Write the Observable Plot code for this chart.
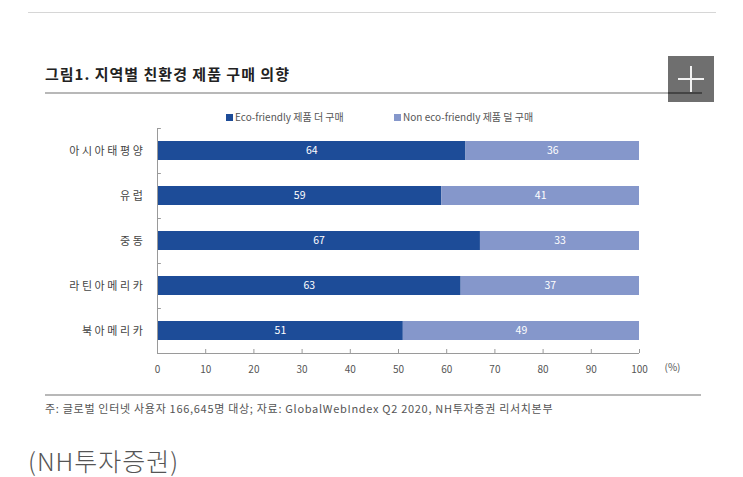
<!DOCTYPE html>
<html>
<head>
<meta charset="utf-8">
<script src="https://cdn.jsdelivr.net/npm/d3@7"></script>
<script src="https://cdn.jsdelivr.net/npm/@observablehq/plot@0.6"></script>
<style>
  html, body { margin: 0; padding: 0; background: #fff; }
  #page { position: relative; width: 743px; height: 477px; overflow: hidden; font-family: "Noto Sans CJK KR", "Noto Sans", sans-serif; background: #fff; }
  .abs { position: absolute; }
  #topline { left: 28px; top: 12px; width: 688px; height: 1px; background: #d6d6d6; }
  #title { left: 45px; top: 63px; font-size: 15px; font-weight: 700; color: #222; letter-spacing: 1px; white-space: nowrap; }
  #titleline { left: 45px; top: 92px; width: 623px; height: 2px; background: #b8b8b8; }
  #plusbox { left: 668px; top: 56px; width: 46px; height: 46px; background: #6f6f6f; }
  #plusbox .h { position: absolute; left: 10px; top: 22px; width: 26px; height: 1.5px; background: #f2f2f2; }
  #plusbox .v { position: absolute; left: 22px; top: 10px; width: 1.5px; height: 26px; background: #f2f2f2; }
  #plusbox .u { position: absolute; left: 0px; top: 36px; width: 34px; height: 2px; background: #444; }
  #legend { left: 0; top: 109px; width: 743px; font-size: 10px; color: #555; white-space: nowrap; }
  .lg { position: absolute; top: 0; }
  .sw { display: inline-block; width: 7px; height: 7px; margin-right: 2px; vertical-align: 0px; }
  #chart { left: 0; top: 125px; }
  #bottomline { left: 45px; top: 394px; width: 656px; height: 2px; background: #b8b8b8; }
  #note { left: 45px; top: 400px; font-size: 11px; color: #555; white-space: nowrap; letter-spacing: 0.7px; }
  #source { left: 28px; top: 442px; font-size: 25px; color: #555; font-weight: 300; white-space: nowrap; letter-spacing: 1px; font-family: "Noto Sans CJK KR", sans-serif; }
</style>
</head>
<body>
<div id="page">
  <div id="topline" class="abs"></div>
  <div id="title" class="abs">그림1. 지역별 친환경 제품 구매 의향</div>
  <div id="titleline" class="abs"></div>
  <div id="plusbox" class="abs"><div class="u"></div><div class="h"></div><div class="v"></div></div>
  <div id="legend" class="abs"></div>
  <div id="chart" class="abs"></div>
  <div id="bottomline" class="abs"></div>
  <div id="note" class="abs">주: 글로벌 인터넷 사용자 166,645명 대상; 자료: GlobalWebIndex Q2 2020, NH투자증권 리서치본부</div>
  <div id="source" class="abs">(NH투자증권)</div>
</div>
<script>
const regions = ["아시아태평양", "유럽", "중동", "라틴아메리카", "북아메리카"];
const seriesNames = ["Eco-friendly 제품 더 구매", "Non eco-friendly 제품 덜 구매"];
const ecoValues = [64, 59, 67, 63, 51];
const nonEcoValues = [36, 41, 33, 37, 49];
const xTicks = [0, 10, 20, 30, 40, 50, 60, 70, 80, 90, 100];
const seriesColors = ["#1d4c98", "#8597cb"];

const data = [];
regions.forEach((r, i) => {
  data.push({region: r, series: seriesNames[0], value: ecoValues[i]});
  data.push({region: r, series: seriesNames[1], value: nonEcoValues[i]});
});

const width = 743, height = 265;
const marginTop = 3, marginBottom = 37, marginLeft = 157, marginRight = 104;
const step = (height - marginTop - marginBottom) / regions.length;

const chart = Plot.plot({
  width, height, marginTop, marginBottom, marginLeft, marginRight,
  style: {fontFamily: "'Noto Sans CJK KR', 'Noto Sans', sans-serif", background: "transparent"},
  x: {domain: [0, 100]},
  y: {domain: regions, paddingInner: 0.58, paddingOuter: 0.29},
  color: {domain: seriesNames, range: seriesColors},
  marks: [
    Plot.barX(data, Plot.stackX({x: "value", y: "region", fill: "series", order: null})),
    Plot.text(data, Plot.stackX({x: "value", y: "region", z: "series", text: "value", fill: "white", fontSize: 10.5, order: null})),
    Plot.ruleX([0], {stroke: "#9a9a9a"}),
    Plot.ruleY(regions, {y: d => d, x1: 0, x2: 0.8, dy: -step / 2, stroke: "#9a9a9a"}),
    Plot.ruleY([regions[regions.length - 1]], {y: d => d, x1: 0, x2: 100, dy: step / 2, stroke: "#9a9a9a"}),
    Plot.axisY({tickSize: 0, tickPadding: 12, fontSize: 11, fill: "#444", label: null}),
    Plot.axisX(xTicks, {tickSize: -4, tickPadding: 16, fontSize: 10, fill: "#555", stroke: "#9a9a9a", label: null, tickFormat: d => String(d)}),
    Plot.text(["(%)"], {x: 100, frameAnchor: "bottom", dx: 33, dy: 17, fill: "#555", fontSize: 10})
  ]
});
chart.querySelectorAll('[aria-label="y-axis tick label"] text').forEach(t => t.setAttribute("letter-spacing", "2.6"));
document.getElementById("chart").appendChild(chart);

const legend = document.getElementById("legend");
const lgX = [226, 394];
seriesNames.forEach((s, i) => {
  const el = document.createElement("span");
  el.className = "lg";
  el.style.left = lgX[i] + "px";
  el.innerHTML = `<span class="sw" style="background:${seriesColors[i]}"></span>${s}`;
  legend.appendChild(el);
});
</script>
</body>
</html>
